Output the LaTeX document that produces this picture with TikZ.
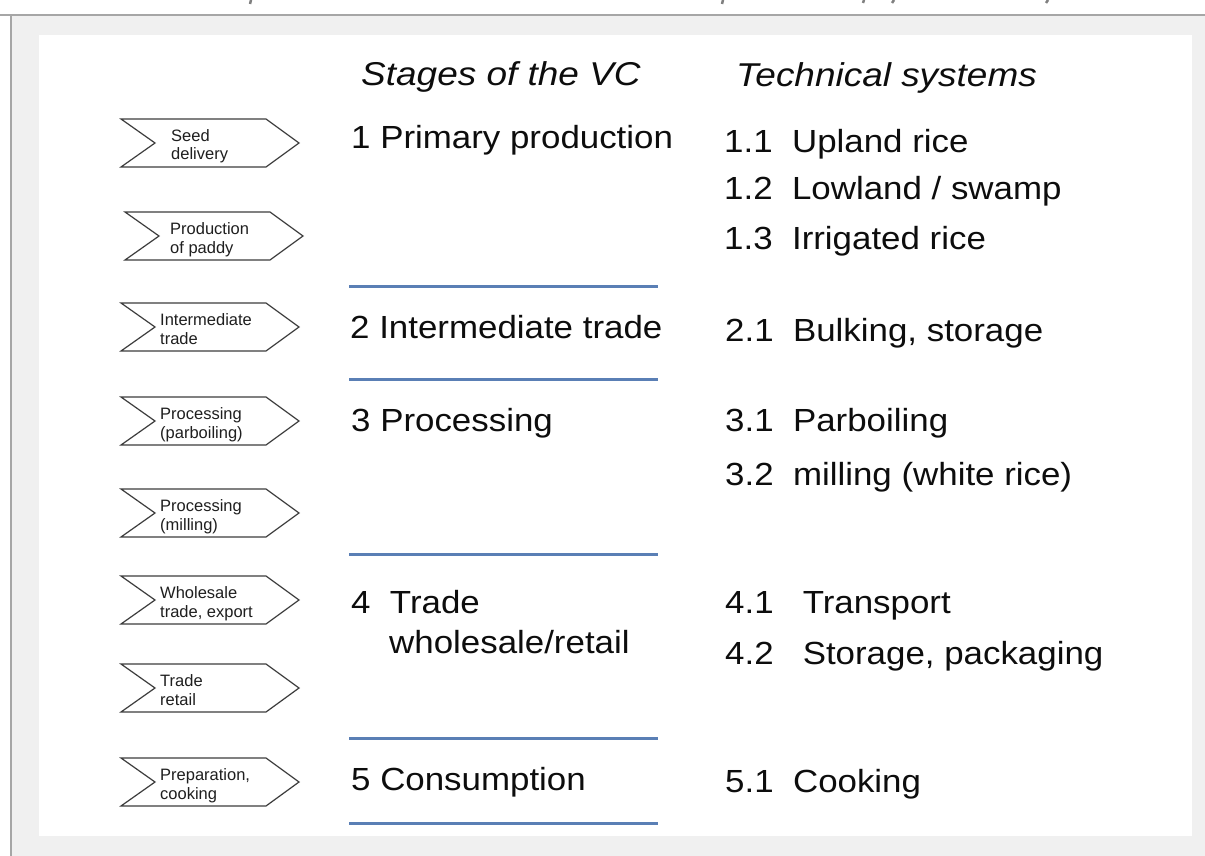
\documentclass[tikz,border=0pt]{standalone}
\usepackage{fontspec}
\setmainfont{Liberation Sans}
\definecolor{bggrey}{HTML}{F0F0F0}
\definecolor{frameline}{HTML}{A6A6A6}
\definecolor{chevc}{HTML}{3C3C3C}
\definecolor{sepblue}{HTML}{5A7FB5}
\definecolor{topink}{HTML}{808080}
\newcommand{\chevshape}[5]{%
  \draw[chev] (#2,#3) -- ++(145,0) -- ++(33,24) -- ++(-33,24) -- ++(-145,0) -- ++(34,-24) -- cycle;
  \node[lab] (#1) at (#4,#3+41) {#5};
}
\begin{document}
\begin{tikzpicture}[x=1pt,y=-1pt,
  chev/.style={draw=chevc, line width=1.2pt, fill=white, line join=miter},
  lab/.style={anchor=base west, align=left, inner sep=0pt, font=\fontsize{16.5}{18.5}\selectfont, text=black!88},
  big/.style={anchor=base west, inner sep=0pt, font=\fontsize{32}{38}\selectfont, xscale=1.09, text=black!95},
  head/.style={anchor=base west, inner sep=0pt, font=\fontsize{33}{38}\selectfont\itshape, xscale=1.12, text=black!95},
  sepline/.style={draw=sepblue, line width=3pt},
  frame/.style={draw=frameline, line width=1.5pt},
  ink/.style={draw=topink, line width=2.5pt}]
\useasboundingbox (0,0) rectangle (1205,856);
\fill[white] (0,0) rectangle (1205,856);
\fill[bggrey] (11,15) rectangle (1205,856);
\draw[frame] (0,15) -- (1205,15);
\draw[frame] (11,15) -- (11,856);
\fill[white] (39,35) rectangle (1192,836);
% clipped descenders of the cut-off title line
\draw[ink] (251,0) -- (250,4);
\draw[ink] (723,0) -- (722,4);
\draw[ink] (864,0) -- (863,3);
\draw[ink] (894,0) -- (892,3);
\draw[ink] (1048,0) -- (1046,3);
% chevrons
\chevshape{c1}{121}{119}{171}{Seed\\delivery}
\chevshape{c2}{125}{212}{170}{Production\\of paddy}
\chevshape{c3}{121}{303}{160}{Intermediate\\trade}
\chevshape{c4}{121}{397}{160}{Processing\\(parboiling)}
\chevshape{c5}{121}{489}{160}{Processing\\(milling)}
\chevshape{c6}{121}{576}{160}{Wholesale\\trade, export}
\chevshape{c7}{121}{664}{160}{Trade\\retail}
\chevshape{c8}{121}{758}{160}{Preparation,\\cooking}
% headers
\node[head] (h1) at (361,86) {Stages of the VC};
\node[head] (h2) at (736,87) {Technical systems};
% stages
\node[big] (s1) at (351,149) {1 Primary production};
\node[big] (s2) at (350,338) {2 Intermediate trade};
\node[big] (s3) at (351,431) {3 Processing};
\node[big] (s4) at (351,613) {4\ \ Trade};
\node[big] (s4b) at (389,653) {wholesale/retail};
\node[big] (s5) at (351,790) {5 Consumption};
% separators
\draw[sepline] (349,286) -- (658,286);
\draw[sepline] (349,379) -- (658,379);
\draw[sepline] (349,554) -- (658,554);
\draw[sepline] (349,738) -- (658,738);
\draw[sepline] (349,823) -- (658,823);
% technical systems
\node[big] (t11) at (724,153) {1.1\ \ Upland rice};
\node[big] (t12) at (724,200) {1.2\ \ Lowland / swamp};
\node[big] (t13) at (724,249) {1.3\ \ Irrigated rice};
\node[big] (t21) at (725,341) {2.1\ \ Bulking, storage};
\node[big] (t31) at (725,431) {3.1\ \ Parboiling};
\node[big] (t32) at (725,485) {3.2\ \ milling (white rice)};
\node[big] (t41) at (725,613) {4.1\ \ \ Transport};
\node[big] (t42) at (725,664) {4.2\ \ \ Storage, packaging};
\node[big] (t51) at (725,792) {5.1\ \ Cooking};
\end{tikzpicture}
\end{document}
